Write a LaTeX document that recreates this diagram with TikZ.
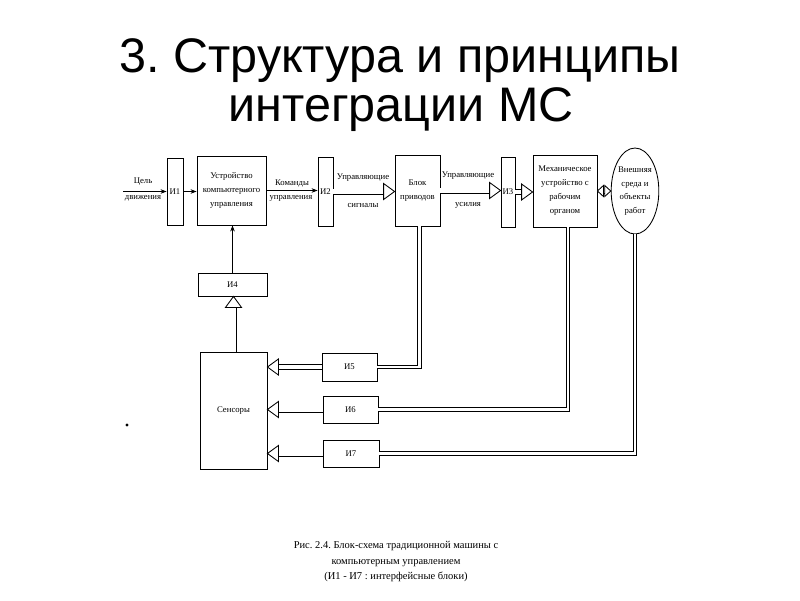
\documentclass[tikz,border=0pt]{standalone}
\usepackage{fontspec}
\setmainfont{Liberation Serif}
\newfontfamily\titlefont{Liberation Sans}
\usetikzlibrary{arrows.meta,calc,shapes.geometric}
\frenchspacing
\newcommand\dfont{\fontsize{8.7}{14}\selectfont}
\newcommand\harrow[2]{%
  \path (#2) coordinate (hT) ($(hT)!11pt!(#1)$) coordinate (hB);
  \draw[dbl] (#1) -- (hB);
  \draw[ln, fill=white] (hT) -- ($(hB)!8pt!90:(hT)$) -- ($(hB)!8pt!-90:(hT)$) -- cycle;
}
\begin{document}
\begin{tikzpicture}[x=1pt,y=-1pt,
  ln/.style={line width=0.85pt},
  dbl/.style={double, double distance=4.5pt, line width=0.75pt},
  fb/.style={double, double distance=2.6pt, line width=0.75pt},
  box/.style={draw, ln, inner sep=0pt, align=center, font=\dfont},
  lbl/.style={font=\dfont, inner sep=0pt},
  sarrow/.style={ln, -{Stealth[length=6pt,width=4.5pt]}}]
\useasboundingbox (0,0) rectangle (800,600);
% title
\node[anchor=base, font=\titlefont\fontsize{48.5}{52}\selectfont] (t1) at (400,72) {3. Структура и принципы};
\node[anchor=base, font=\titlefont\fontsize{48.5}{52}\selectfont] (t2) at (401,121) {интеграции МС};
% top row
\node[box, minimum width=16, minimum height=67] (i1) at (175,191.5) {И1};
\node[box, minimum width=69, minimum height=69] (dev) at (231.5,190.5) {Устройство\\компьютерного\\управления};
\node[box, minimum width=15, minimum height=69] (i2) at (325.5,191.5) {И2};
\node[box, minimum width=45, minimum height=71] (blok) at (417.5,190.5) {Блок\\приводов};
\node[box, minimum width=14, minimum height=70] (i3) at (508,192) {И3};
\node[box, minimum width=64, minimum height=72] (mech) at (565,191) {Механическое\\устройство с\\рабочим\\органом};
\node[draw, ln, ellipse, inner sep=0pt, minimum width=45, minimum height=86, align=center, font=\fontsize{8.7}{13.5}\selectfont] (env) at (635,191) {Внешняя\\среда и\\объекты\\работ};
% lower part
\node[box, minimum width=69, minimum height=23] (i4) at (232.5,284.5) {И4};
\node[box, minimum width=67, minimum height=117] (sens) at (233.5,410.5) {Сенсоры};
\node[box, minimum width=55, minimum height=28] (i5) at (349.5,367) {И5};
\node[box, minimum width=55, minimum height=27] (i6) at (350.5,409.5) {И6};
\node[box, minimum width=56, minimum height=27] (i7) at (351,453.5) {И7};
% input
\coordinate (in) at (123,191.5);
\draw[sarrow] (in) -- (i1.west);
\node[lbl] (l1) at (143,182) {Цель};
\node[lbl] (l2) at (143,198) {движения};
\draw[sarrow] (i1.east) -- (i1.east -| dev.west);
\draw[sarrow] (dev.east) -- (dev.east -| i2.west);
\node[lbl] (l3) at (292,183) {Команды};
\node[lbl] (l4) at (291,198) {управления};
\harrow{i2.east}{i2.east -| blok.west}
\node[lbl] (l5) at (363,178) {Управляющие};
\node[lbl] (l6) at (363,205) {сигналы};
\harrow{blok.east}{blok.east -| i3.west}
\node[lbl] (l7) at (468,176) {Управляющие};
\node[lbl] (l8) at (468,205) {усилия};
\harrow{i3.east}{i3.east -| mech.west}
% double headed hollow arrow
\path (mech.east) coordinate (dA) (mech.east -| env.west) coordinate (dB)
  ($(dA)!6pt!(dB)$) coordinate (dA1) ($(dB)!6pt!(dA)$) coordinate (dB1);
\draw[dbl, double distance=3.5pt] (dA1) -- (dB1);
\draw[ln, fill=white] (dA) -- ($(dA1)!5.5pt!90:(dA)$) -- ($(dA1)!5.5pt!-90:(dA)$) -- cycle;
\draw[ln, fill=white] (dB) -- ($(dB1)!5.5pt!90:(dB)$) -- ($(dB1)!5.5pt!-90:(dB)$) -- cycle;
% feedback
\draw[sarrow] (i4.north) -- (i4.north |- dev.south);
\harrow{sens.north}{sens.north |- i4.south}
\harrow{i5.west}{i5.west -| sens.east}
\harrow{i6.west}{i6.west -| sens.east}
\harrow{i7.west}{i7.west -| sens.east}
\draw[fb] (i5.east) -| ([xshift=2pt]blok.south);
\draw[fb] (i6.east) -| ([xshift=3pt]mech.south);
\draw[fb] (i7.east) -| (env.south);
% stray mark
\fill (127,425) circle (1.6);
% caption
\node[align=center, font=\fontsize{10.5}{15.5}\selectfont, inner sep=0pt] (cap) at (396,562) {Рис. 2.4. Блок-схема традиционной машины с\\компьютерным управлением\\(И1 - И7 : интерфейсные блоки)};
\end{tikzpicture}
\end{document}
